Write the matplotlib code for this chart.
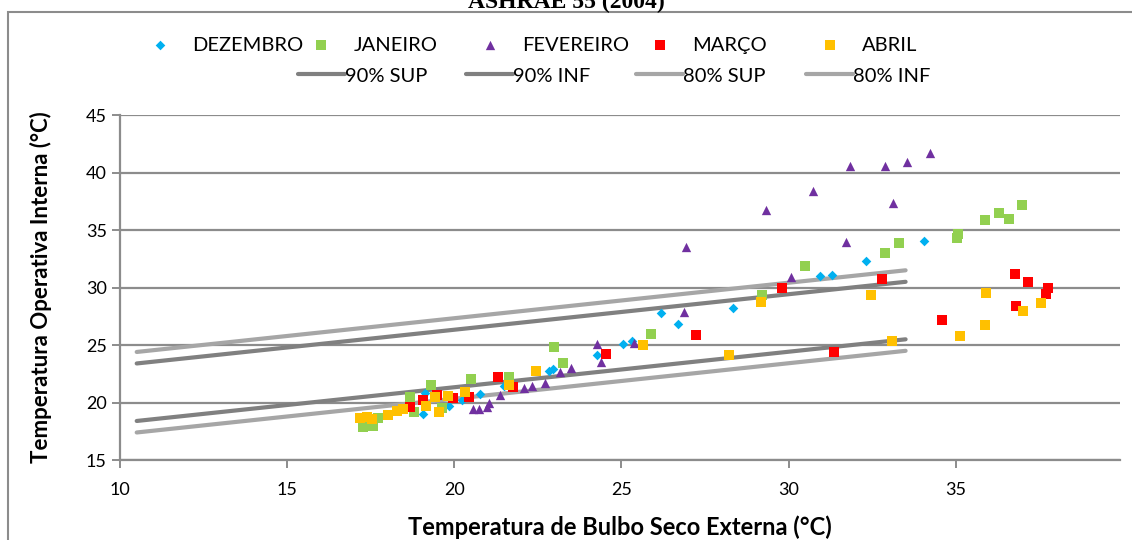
import matplotlib
matplotlib.use("Agg")
import matplotlib.pyplot as plt
from matplotlib.patches import Rectangle
import numpy as np

# --- data ---
dez_x = [19.06, 19.13, 19.83, 20.23, 20.76, 21.48, 22.82, 22.94, 24.27, 25.05, 25.32,
         26.17, 26.68, 28.33, 30.93, 31.30, 32.31, 34.06]
dez_y = [18.97, 20.80, 19.70, 20.22, 20.74, 21.43, 22.77, 22.88, 24.16, 25.09, 25.37,
         27.76, 26.80, 28.24, 31.00, 31.09, 32.30, 34.04]

jan_x = [17.28, 17.56, 17.73, 18.68, 18.78, 19.31, 19.63, 20.50, 21.63, 22.97, 23.24,
         25.87, 29.20, 30.48, 32.88, 33.30, 35.04, 35.07, 35.88, 36.30, 36.60, 36.99]
jan_y = [17.90, 17.96, 18.62, 20.50, 19.20, 21.52, 19.50, 22.04, 22.19, 24.80, 23.40,
         26.00, 29.32, 31.87, 32.97, 33.84, 34.28, 34.63, 35.84, 36.45, 36.00, 37.15]

fev_x = [20.57, 20.73, 20.98, 21.03, 21.38, 22.08, 22.33, 22.70, 23.17, 23.50, 24.27,
         24.39, 25.37, 26.86, 26.94, 29.31, 30.06, 30.72, 31.71, 31.84, 32.88, 33.13,
         33.53, 34.24]
fev_y = [19.43, 19.46, 19.58, 20.00, 20.63, 21.23, 21.43, 21.72, 22.65, 23.03, 25.06,
         23.55, 25.14, 27.87, 33.50, 36.74, 30.89, 38.42, 34.00, 40.56, 40.56, 37.32,
         40.94, 41.72]

mar_x = [18.68, 19.07, 19.48, 19.97, 20.43, 21.30, 21.75, 24.53, 27.22, 29.81, 31.36,
         32.78, 34.59, 36.78, 36.80, 37.17, 37.70, 37.77]
mar_y = [19.58, 20.20, 20.65, 20.36, 20.50, 22.19, 21.32, 24.19, 25.84, 29.93, 24.37,
         30.71, 27.15, 31.15, 28.39, 30.45, 29.40, 29.93]

abr_x = [17.19, 17.39, 17.54, 18.03, 18.28, 18.48, 19.16, 19.43, 19.53, 19.82, 20.33,
         21.63, 22.43, 25.64, 28.21, 29.16, 32.46, 33.09, 35.13, 35.88, 35.90, 37.00, 37.55]
abr_y = [18.62, 18.71, 18.54, 18.91, 19.26, 19.40, 19.70, 20.50, 19.20, 20.57, 20.94,
         21.52, 22.71, 24.97, 24.13, 28.71, 29.32, 25.35, 25.76, 26.71, 29.50, 27.93, 28.62]

# comfort limit lines (start / end)
lim_x = [10.5, 33.5]
sup90 = [23.4, 30.5]
inf90 = [18.4, 25.5]
sup80 = [24.4, 31.5]
inf80 = [17.4, 24.5]

plt.rcParams['font.family'] = ['Lato', 'DejaVu Sans']

fig = plt.figure(figsize=(11.32, 5.4), dpi=100)
ax = fig.add_axes([0.106, 0.148, 0.883, 0.639])

grid_c = '#8c8c8c'

# chart frame
fig.add_artist(Rectangle((8 / 1132, -0.01), 1.1, 1 - 12 / 540 + 0.01,
                         transform=fig.transFigure, fill=False,
                         edgecolor=grid_c, linewidth=1.5))

fig.text(0.5, 1 - 8 / 540, 'ASHRAE 55 (2004)', ha='center', va='baseline',
         family='Liberation Serif', fontweight='bold', fontsize=17)

# limit lines
ax.plot(lim_x, sup90, color='#808080', lw=3, solid_capstyle='round', zorder=3, label='90% SUP')
ax.plot(lim_x, inf90, color='#808080', lw=3, solid_capstyle='round', zorder=3, label='90% INF')
ax.plot(lim_x, sup80, color='#a6a6a6', lw=3, solid_capstyle='round', zorder=3, label='80% SUP')
ax.plot(lim_x, inf80, color='#a6a6a6', lw=3, solid_capstyle='round', zorder=3, label='80% INF')

# monthly scatter
ax.scatter(dez_x, dez_y, marker='D', s=24, color='#00b0f0', linewidths=0, zorder=4, label='DEZEMBRO')
ax.scatter(jan_x, jan_y, marker='s', s=55, color='#92d050', linewidths=0, zorder=4, label='JANEIRO')
ax.scatter(fev_x, fev_y, marker='^', s=45, color='#7030a0', linewidths=0, zorder=4, label='FEVEREIRO')
ax.scatter(mar_x, mar_y, marker='s', s=55, color='#ff0000', linewidths=0, zorder=4, label='MARÇO')
ax.scatter(abr_x, abr_y, marker='s', s=55, color='#ffc000', linewidths=0, zorder=4, label='ABRIL')

ax.set_xlim(10, 39.9)
ax.set_ylim(15, 45)
ax.set_xticks([10, 15, 20, 25, 30, 35])
ax.set_yticks([15, 20, 25, 30, 35, 40, 45])
ax.yaxis.grid(True, color=grid_c, linewidth=1.6)
ax.set_axisbelow(True)
for s in ['top', 'right']:
    ax.spines[s].set_visible(False)
for s in ['left', 'bottom']:
    ax.spines[s].set_color(grid_c)
    ax.spines[s].set_linewidth(1.6)
ax.tick_params(axis='both', colors=grid_c, length=6, width=1.4, labelsize=13,
               labelcolor='black', direction='out')
ax.tick_params(axis='x', pad=10)

ax.set_xlabel('Temperatura de Bulbo Seco Externa (°C)', fontsize=17, fontweight='bold', labelpad=12)
ax.set_ylabel('Temperatura Operativa Interna (°C)', fontsize=16, fontweight='bold', labelpad=24)

# Excel-style legend: evenly spaced entries, one small legend per entry
h, l = ax.get_legend_handles_labels()
row1_px = [152, 313, 482, 652, 822]
row2_px = [298, 466, 636, 806]
for hh, ll, px in zip(h[4:], l[4:], row1_px):
    fig.legend([hh], [ll], loc='center left', bbox_to_anchor=(px / 1132, 1 - 45 / 540),
               frameon=False, fontsize=14.5, handletextpad=1.2, handlelength=0.8,
               borderpad=0, borderaxespad=0, scatterpoints=1)
for hh, ll, px in zip(h[:4], l[:4], row2_px):
    fig.legend([hh], [ll], loc='center left', bbox_to_anchor=(px / 1132, 1 - 76 / 540),
               frameon=False, fontsize=14.5, handletextpad=0.0, handlelength=2.35,
               borderpad=0, borderaxespad=0)

fig.savefig('out.png', dpi=100)
